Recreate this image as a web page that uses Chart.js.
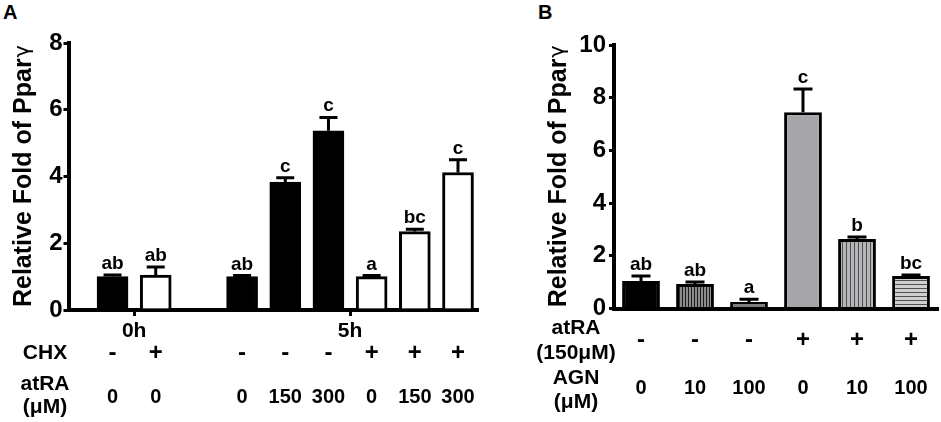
<!DOCTYPE html>
<html>
<head>
<meta charset="utf-8">
<script src="https://cdn.jsdelivr.net/npm/chart.js@4.4.0/dist/chart.umd.min.js"></script>
<style>
  html, body { margin: 0; padding: 0; background: #fff; }
  body { width: 941px; height: 422px; position: relative; overflow: hidden; font-family: 'Liberation Sans', Arial, sans-serif; }
  .panel { position: absolute; top: 0; height: 422px; }
  #wrapA { left: 0; width: 490px; }
  #wrapB { left: 490px; width: 451px; }
  .plabel { position: absolute; font-weight: bold; font-size: 20px; line-height: 1; color: #000; }
</style>
</head>
<body>
<div class="plabel" style="left:3px;top:2px;">A</div>
<div class="plabel" style="left:538px;top:2px;">B</div>
<div class="panel" id="wrapA"><canvas id="chartA"></canvas></div>
<div class="panel" id="wrapB"><canvas id="chartB"></canvas></div>
<script>
// ---------- Panel A data ----------
const groupsA   = ['0h', '0h', '5h', '5h', '5h', '5h', '5h', '5h'];
const chxA      = ['-', '+', '-', '-', '-', '+', '+', '+'];
const atraA     = ['0', '0', '0', '150', '300', '0', '150', '300'];
const valuesA   = [1.0, 1.05, 1.0, 3.83, 5.37, 1.0, 2.35, 4.12];
const errorsA   = [0.05, 0.24, 0.03, 0.13, 0.40, 0.03, 0.07, 0.38];
const lettersA  = ['ab', 'ab', 'ab', 'c', 'c', 'a', 'bc', 'c'];
const yTicksA   = [0, 2, 4, 6, 8];

// ---------- Panel B data ----------
const atraB     = ['-', '-', '-', '+', '+', '+'];
const agnB      = ['0', '10', '100', '0', '10', '100'];
const valuesB   = [1.04, 0.93, 0.25, 7.45, 2.64, 1.23];
const errorsB   = [0.19, 0.08, 0.10, 0.88, 0.07, 0.04];
const lettersB  = ['ab', 'ab', 'a', 'c', 'b', 'bc'];
const yTicksB   = [0, 2, 4, 6, 8, 10];

const FONT = "'Liberation Sans', Arial, sans-serif";
const yTitleMain = 'Relative Fold of Ppar';
const yTitleGreek = '\u03b3';

// slot positions for panel A: one empty slot between time groups
const groupNames = [...new Set(groupsA)];
const slotsA = groupsA.map((g, i) => i + groupNames.indexOf(g));
const groupCenters = groupNames.map(g => {
  const s = slotsA.filter((_, i) => groupsA[i] === g);
  return (Math.min(...s) + Math.max(...s)) / 2;
});

function stripe(bg, fg, dir, period, lw) {
  const c = document.createElement('canvas');
  c.width = period; c.height = period;
  const g = c.getContext('2d');
  g.fillStyle = bg; g.fillRect(0, 0, period, period);
  g.fillStyle = fg;
  if (dir === 'v') g.fillRect(0, 0, lw, period); else g.fillRect(0, 0, period, lw);
  return g.createPattern(c, 'repeat');
}

const fillsA = chxA.map(c => c === '-' ? '#000000' : '#ffffff');
const fillsB = [
  '#000000',
  stripe('#8c8c8c', '#1c1c1c', 'v', 3, 1),
  '#7c7c7c',
  '#a6a6aa',
  stripe('#b6b6b8', '#505050', 'v', 4, 1),
  stripe('#cfcfcf', '#505050', 'h', 4, 1)
];

function errorPlugin(errors, letters, capW) {
  return {
    id: 'errs',
    afterDatasetsDraw(chart) {
      const ctx = chart.ctx;
      const y = chart.scales.y;
      const meta = chart.getDatasetMeta(0);
      const vals = chart.data.datasets[0].data.map(d => (typeof d === 'object' ? d.y : d));
      ctx.save();
      ctx.strokeStyle = '#000';
      ctx.lineWidth = 3;
      meta.data.forEach((bar, i) => {
        const x = bar.x;
        const y0 = y.getPixelForValue(vals[i]);
        const y1 = y.getPixelForValue(vals[i] + errors[i]);
        ctx.beginPath();
        ctx.moveTo(x, y0); ctx.lineTo(x, y1);
        ctx.moveTo(x - capW / 2, y1); ctx.lineTo(x + capW / 2, y1);
        ctx.stroke();
        ctx.fillStyle = '#000';
        ctx.font = 'bold 19px ' + FONT;
        ctx.textAlign = 'center';
        ctx.textBaseline = 'alphabetic';
        ctx.fillText(letters[i], x, y1 - 6);
      });
      ctx.restore();
    }
  };
}

function rowsPlugin(rows, heads, labelX) {
  return {
    id: 'rows',
    afterDraw(chart) {
      const ctx = chart.ctx;
      const meta = chart.getDatasetMeta(0);
      ctx.save();
      ctx.fillStyle = '#000';
      ctx.textAlign = 'center';
      ctx.textBaseline = 'middle';
      rows.forEach(r => {
        ctx.font = 'bold ' + r.size + 'px ' + FONT;
        meta.data.forEach((bar, i) => ctx.fillText(r.values[i], bar.x, r.y));
      });
      heads.forEach(h => {
        ctx.font = 'bold 21px ' + FONT;
        ctx.fillText(h.text, labelX, h.y);
      });
      ctx.restore();
    }
  };
}

// y-axis title drawn with a bold main part and a light Greek gamma
function titlePlugin(centerX) {
  return {
    id: 'ytitle',
    afterDraw(chart) {
      const ctx = chart.ctx;
      const area = chart.chartArea;
      const cy = (area.top + area.bottom) / 2;
      ctx.save();
      ctx.translate(centerX, cy);
      ctx.rotate(-Math.PI / 2);
      ctx.fillStyle = '#000';
      ctx.textBaseline = 'alphabetic';
      ctx.textAlign = 'left';
      const fMain = 'bold 25px ' + FONT;
      const fGreek = '21px "DejaVu Sans", "Noto Sans", sans-serif';
      ctx.font = fMain;
      const w1 = ctx.measureText(yTitleMain).width;
      ctx.font = fGreek;
      const w2 = ctx.measureText(yTitleGreek).width;
      const x0 = -(w1 + w2) / 2;
      const base = 9;
      ctx.font = fMain;
      ctx.fillText(yTitleMain, x0, base);
      ctx.font = fGreek;
      ctx.fillText(yTitleGreek, x0 + w1 + 1, base - 2);
      ctx.restore();
    }
  };
}

const tickFont = { family: FONT, size: 24, weight: 'bold' };

// ---------- Chart A ----------
new Chart(document.getElementById('chartA'), {
  type: 'bar',
  data: {
    datasets: [{
      data: valuesA.map((v, i) => ({ x: slotsA[i], y: v })),
      backgroundColor: fillsA,
      borderColor: '#000',
      borderWidth: 3,
      barThickness: 31
    }]
  },
  options: {
    responsive: true,
    maintainAspectRatio: false,
    animation: false,
    layout: { padding: { left: 8, top: 43, right: 13, bottom: 0 } },
    plugins: { legend: { display: false }, tooltip: { enabled: false } },
    scales: {
      x: {
        type: 'linear', min: -1.02, max: 8.44, offset: false,
        afterBuildTicks: s => { s.ticks = groupCenters.map(v => ({ value: v })); },
        afterFit: s => { s.height = 112; },
        ticks: { autoSkip: false, maxRotation: 0, padding: 3, color: '#000', font: { family: FONT, size: 21, weight: 'bold' },
                 callback: (v) => groupNames[groupCenters.indexOf(v)] },
        grid: { display: true, drawOnChartArea: false, drawTicks: true, tickLength: 6, color: '#000', lineWidth: 3, offset: false },
        border: { display: true, color: '#000', width: 4 }
      },
      y: {
        min: 0, max: 8,
        afterBuildTicks: s => { s.ticks = yTicksA.map(v => ({ value: v })); },
        afterFit: s => { s.width = 60.5; },
        ticks: { padding: 1, color: '#000', font: tickFont },
        grid: { display: true, drawOnChartArea: false, drawTicks: true, tickLength: 5, color: '#000', lineWidth: 3 },
        border: { display: true, color: '#000', width: 4 },
        title: { display: false }
      }
    }
  },
  plugins: [
    errorPlugin(errorsA, lettersA, 18),
    titlePlugin(22),
    rowsPlugin([
      { values: chxA, y: 353, size: 24 },
      { values: atraA, y: 397, size: 20 }
    ], [
      { text: 'CHX', y: 353 },
      { text: 'atRA', y: 384 },
      { text: '(\u03bcM)', y: 407 }
    ], 45)
  ]
});

// ---------- Chart B ----------
new Chart(document.getElementById('chartB'), {
  type: 'bar',
  data: {
    labels: agnB,
    datasets: [{
      data: valuesB,
      backgroundColor: fillsB,
      borderColor: '#000',
      borderWidth: 3,
      categoryPercentage: 1,
      barPercentage: 0.7
    }]
  },
  options: {
    responsive: true,
    maintainAspectRatio: false,
    animation: false,
    layout: { padding: { left: 52, top: 45, right: 3, bottom: 0 } },
    plugins: { legend: { display: false }, tooltip: { enabled: false } },
    scales: {
      x: {
        afterFit: s => { s.height = 113.5; },
        ticks: { display: false },
        grid: { display: false },
        border: { display: true, color: '#000', width: 4 }
      },
      y: {
        min: 0, max: 10,
        afterBuildTicks: s => { s.ticks = yTicksB.map(v => ({ value: v })); },
        afterFit: s => { s.width = 72; },
        ticks: { padding: 3, color: '#000', font: tickFont },
        grid: { display: true, drawOnChartArea: false, drawTicks: true, tickLength: 5, color: '#000', lineWidth: 3 },
        border: { display: true, color: '#000', width: 4 },
        title: { display: false }
      }
    }
  },
  plugins: [
    errorPlugin(errorsB, lettersB, 19),
    titlePlugin(67),
    rowsPlugin([
      { values: atraB, y: 340, size: 24 },
      { values: agnB, y: 388, size: 20 }
    ], [
      { text: 'atRA', y: 328 },
      { text: '(150\u03bcM)', y: 353 },
      { text: 'AGN', y: 378 },
      { text: '(\u03bcM)', y: 402 }
    ], 86)
  ]
});
</script>
</body>
</html>
